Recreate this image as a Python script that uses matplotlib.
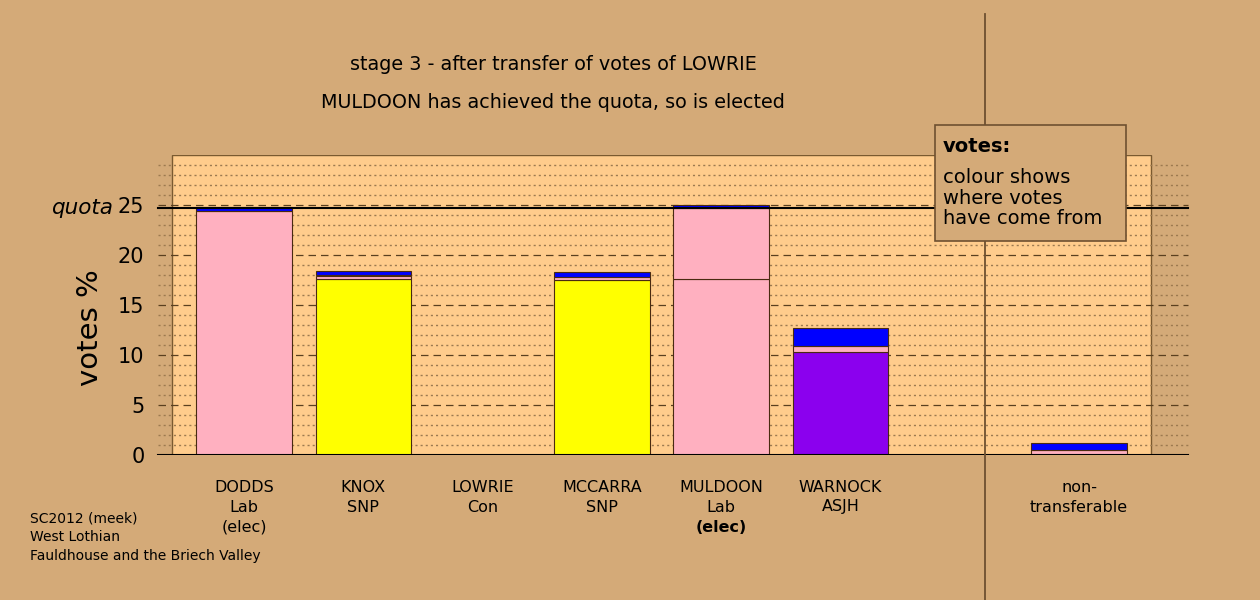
import matplotlib.pyplot as plt
from matplotlib.patches import Rectangle
from matplotlib.lines import Line2D

# candidates and parties
names = ["DODDS", "KNOX", "LOWRIE", "MCCARRA", "MULDOON", "WARNOCK", "non-"]
parties = ["Lab", "SNP", "Con", "SNP", "Lab", "ASJH", "transferable"]
status = ["(elec)", "", "", "", "(elec)", "", ""]
positions = [0, 1, 2, 3, 4, 5, 7]

# stacked segments (votes %), bottom to top
seg1 = [24.45, 17.6, 0.0, 17.55, 17.65, 10.35, 0.5]
seg1_col = ["#FFB0C0", "#FFFF00", "#0000FF", "#FFFF00", "#FFB0C0", "#8B00EE", "#FFB0C0"]
seg2 = [0.0, 0.35, 0.0, 0.25, 7.05, 0.55, 0.0]   # from DODDS (Lab)
seg3 = [0.35, 0.45, 0.0, 0.5, 0.3, 1.8, 0.75]    # from LOWRIE (Con)

quota = 24.75

bg = "#D4AA78"
panel = "#FFCC8C"

fig = plt.figure(figsize=(12.6, 6), dpi=100, facecolor=bg)
ax = fig.add_axes([150 / 1260, 1 - 455 / 600, 1045 / 1260, 300 / 600])
ax.set_facecolor("none")
for s in ax.spines.values():
    s.set_visible(False)

x0, x1 = (150 - 244) / 119.3, (1195 - 244) / 119.3
ax.set_xlim(x0, x1)
ax.set_ylim(0, 30)

# panel
ax.add_patch(Rectangle((-0.6, 0), 8.2, 30, facecolor=panel, edgecolor="#7A5A30",
                       linewidth=1, zorder=0))

gl, gr = (158 - 244) / 119.3, (1188 - 244) / 119.3
for v in range(1, 30):
    if v % 5 == 0:
        ax.plot([gl, gr], [v, v], color="#5A4020", lw=0.9, ls=(0, (6, 4)), zorder=1)
    else:
        ax.plot([gl, gr], [v, v], color="#9C7A50", lw=1.0, ls=(0, (1.5, 2.2)), zorder=1)
ax.plot([gl, gr], [quota, quota], color="black", lw=1.5, zorder=3)
ax.plot([gl, gr], [0, 0], color="black", lw=1.5, zorder=3)

# bars
w = 0.8
for i, p in enumerate(positions):
    b = 0
    for h, c in [(seg1[i], seg1_col[i]), (seg2[i], "#FFB0C0"), (seg3[i], "#0000FF")]:
        if h > 0:
            ax.bar(p, h, bottom=b, width=w, color=c, edgecolor="#4A2A10",
                   linewidth=0.8, zorder=2)
        b += h

ax.set_xticks([])
ax.set_yticks([0, 5, 10, 15, 20, 25])
ax.tick_params(axis="y", length=0, labelsize=15, pad=4)
fig.text(90 / 1260, 1 - 328 / 600, "votes %", fontsize=21, rotation=90,
         ha="center", va="center")

fig.text(113 / 1260, 1 - 208 / 600, "quota", fontsize=15.5, style="italic",
         ha="right", va="center")

# category labels
for i, p in enumerate(positions):
    ax.text(p, -3.2, names[i], ha="center", va="center", fontsize=11.5)
    ax.text(p, -5.2, parties[i], ha="center", va="center", fontsize=11.5)
    if status[i]:
        ax.text(p, -7.2, status[i], ha="center", va="center", fontsize=11.5,
                fontweight="bold" if names[i] == "MULDOON" else "normal")

# titles
fig.text(553 / 1260, 1 - 65 / 600, "stage 3 - after transfer of votes of LOWRIE",
         ha="center", va="center", fontsize=13.8)
fig.text(553 / 1260, 1 - 103 / 600, "MULDOON has achieved the quota, so is elected",
         ha="center", va="center", fontsize=13.8)

# footer
fig.text(30 / 1260, 1 - 518 / 600, "SC2012 (meek)", fontsize=10, va="center")
fig.text(30 / 1260, 1 - 537 / 600, "West Lothian", fontsize=10, va="center")
fig.text(30 / 1260, 1 - 556 / 600, "Fauldhouse and the Briech Valley", fontsize=10, va="center")

# divider
fig.add_artist(Line2D([985 / 1260, 985 / 1260], [1 - 14 / 600, 0], color="#6E5030",
                      lw=1.3, zorder=5))

# legend box
fig.add_artist(Rectangle((935 / 1260, 1 - 241 / 600), 191 / 1260, 116 / 600,
                         transform=fig.transFigure, facecolor=bg, edgecolor="#6E5030",
                         lw=1.2, zorder=6))
fig.text(943 / 1260, 1 - 146 / 600, "votes:", fontsize=14, fontweight="bold",
         va="center", zorder=7)
fig.text(943 / 1260, 1 - 198 / 600, "colour shows\nwhere votes\nhave come from",
         fontsize=14, va="center", linespacing=1.1, zorder=7)

fig.savefig("out.png", dpi=100, facecolor=bg)
